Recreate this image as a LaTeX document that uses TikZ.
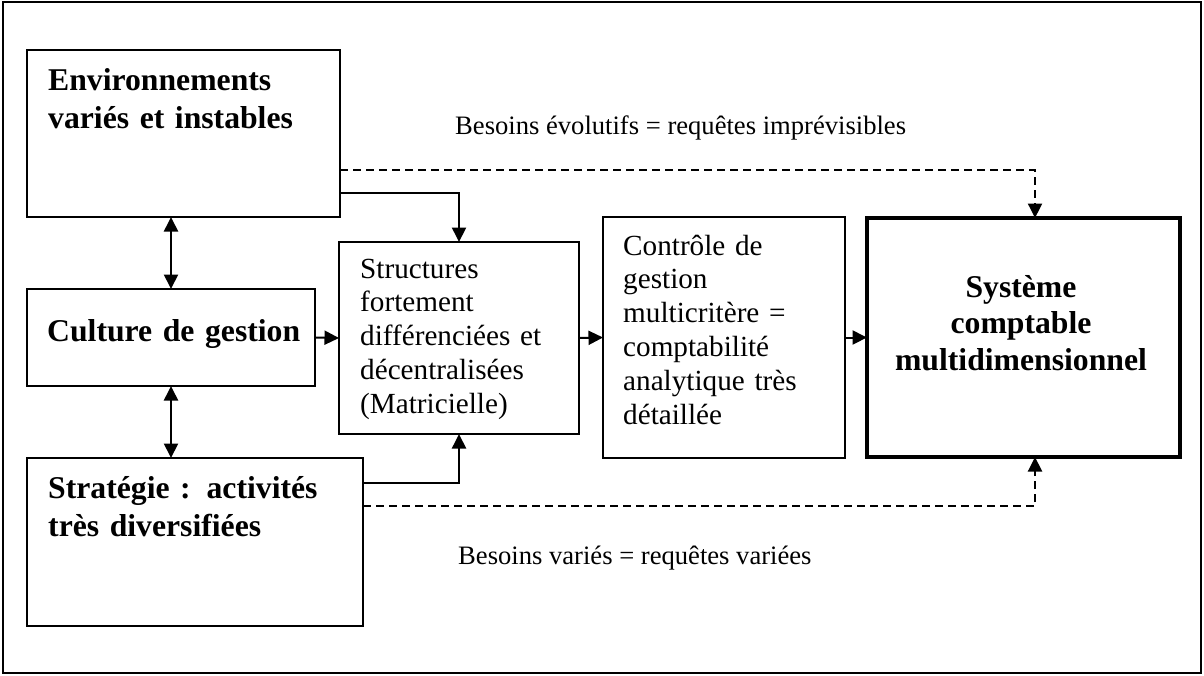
\documentclass[tikz,border=0pt]{standalone}
\usepackage{fontspec}
\setmainfont{Liberation Serif}
\usetikzlibrary{arrows.meta,calc}
\begin{document}
\begin{tikzpicture}[x=1pt,y=-1pt,
  box/.style={draw, line width=2pt, inner sep=0pt, outer sep=0pt},
  tip/.tip={Triangle[length=14.5pt,width=14pt]},
  arr/.style={line width=2pt, -tip},
  darr/.style={arr, dash pattern=on 8pt off 5pt},
  btxt/.style={inner sep=0pt, anchor=base west, align=left, font=\fontsize{31.7pt}{38pt}\selectfont\bfseries},
  ntxt/.style={inner sep=0pt, anchor=base west, align=left, font=\fontsize{29.2pt}{33.8pt}\selectfont},
  ltxt/.style={inner sep=0pt, anchor=base west, font=\fontsize{26.6pt}{30pt}\selectfont}]
\useasboundingbox (0,0) rectangle (1204,675);
\node[box, minimum width=1198pt, minimum height=671pt] (frame) at (602,337.5) {};
% boxes
\node[box, minimum width=313pt, minimum height=167pt] (env) at (183.5,133.5) {};
\node[box, minimum width=288pt, minimum height=97pt] (cult) at (171,337.5) {};
\node[box, minimum width=336pt, minimum height=168pt] (strat) at (195,542) {};
\node[box, minimum width=240pt, minimum height=192pt] (struct) at (459,338) {};
\node[box, minimum width=242pt, minimum height=241pt] (ctrl) at (724,337.5) {};
\node[box, line width=3.5pt, minimum width=313pt, minimum height=239pt] (sys) at (1023.5,337.5) {};
% texts
\node[btxt, text width=300pt] (envt) at (48,90) {Environnements\\variés et instables};
\node[btxt, text width=260pt] (cultt) at (47,341) {Culture de gestion};
\node[btxt, text width=300pt] (stratt) at (48,498) {\makebox[294pt][s]{Stratégie : activités}\\très diversifiées};
\node[ntxt, text width=205pt] (structt) at (360,278) {Structures\\fortement\\\makebox[198pt][s]{différenciées et}\\décentralisées\\(Matricielle)};
\node[ntxt, text width=215pt] (ctrlt) at (623,255) {Contrôle de\\gestion\\multicritère =\\comptabilité\\analytique très\\détaillée};
\node[btxt, anchor=base, align=center, text width=300pt, font=\fontsize{31.7pt}{36.5pt}\selectfont\bfseries] (syst) at (1021,297) {Système\\comptable\\multidimensionnel};
\node[ltxt] (lab1) at (455,134) {Besoins évolutifs = requêtes imprévisibles};
\node[ltxt] (lab2) at (458,564) {Besoins variés = requêtes variées};
% connectors
\draw[line width=2pt, tip-tip] (cult.north |- env.south) -- (cult.north);
\draw[line width=2pt, tip-tip] (cult.south) -- (cult.south |- strat.north);
\draw[arr] (env.east |- 0,193) -| (struct.north);
\draw[arr] (strat.east |- 0,483) -| (struct.south);
\draw[arr] (cult.east) -- (struct.west);
\draw[arr] (struct.east) -- (ctrl.west);
\draw[arr] (ctrl.east) -- (sys.west);
\draw[darr] (env.east |- 0,170) -| ($(sys.north)+(11.5,0)$);
\draw[darr] (strat.east |- 0,506) -| ($(sys.south)+(11.5,0)$);
\end{tikzpicture}
\end{document}
